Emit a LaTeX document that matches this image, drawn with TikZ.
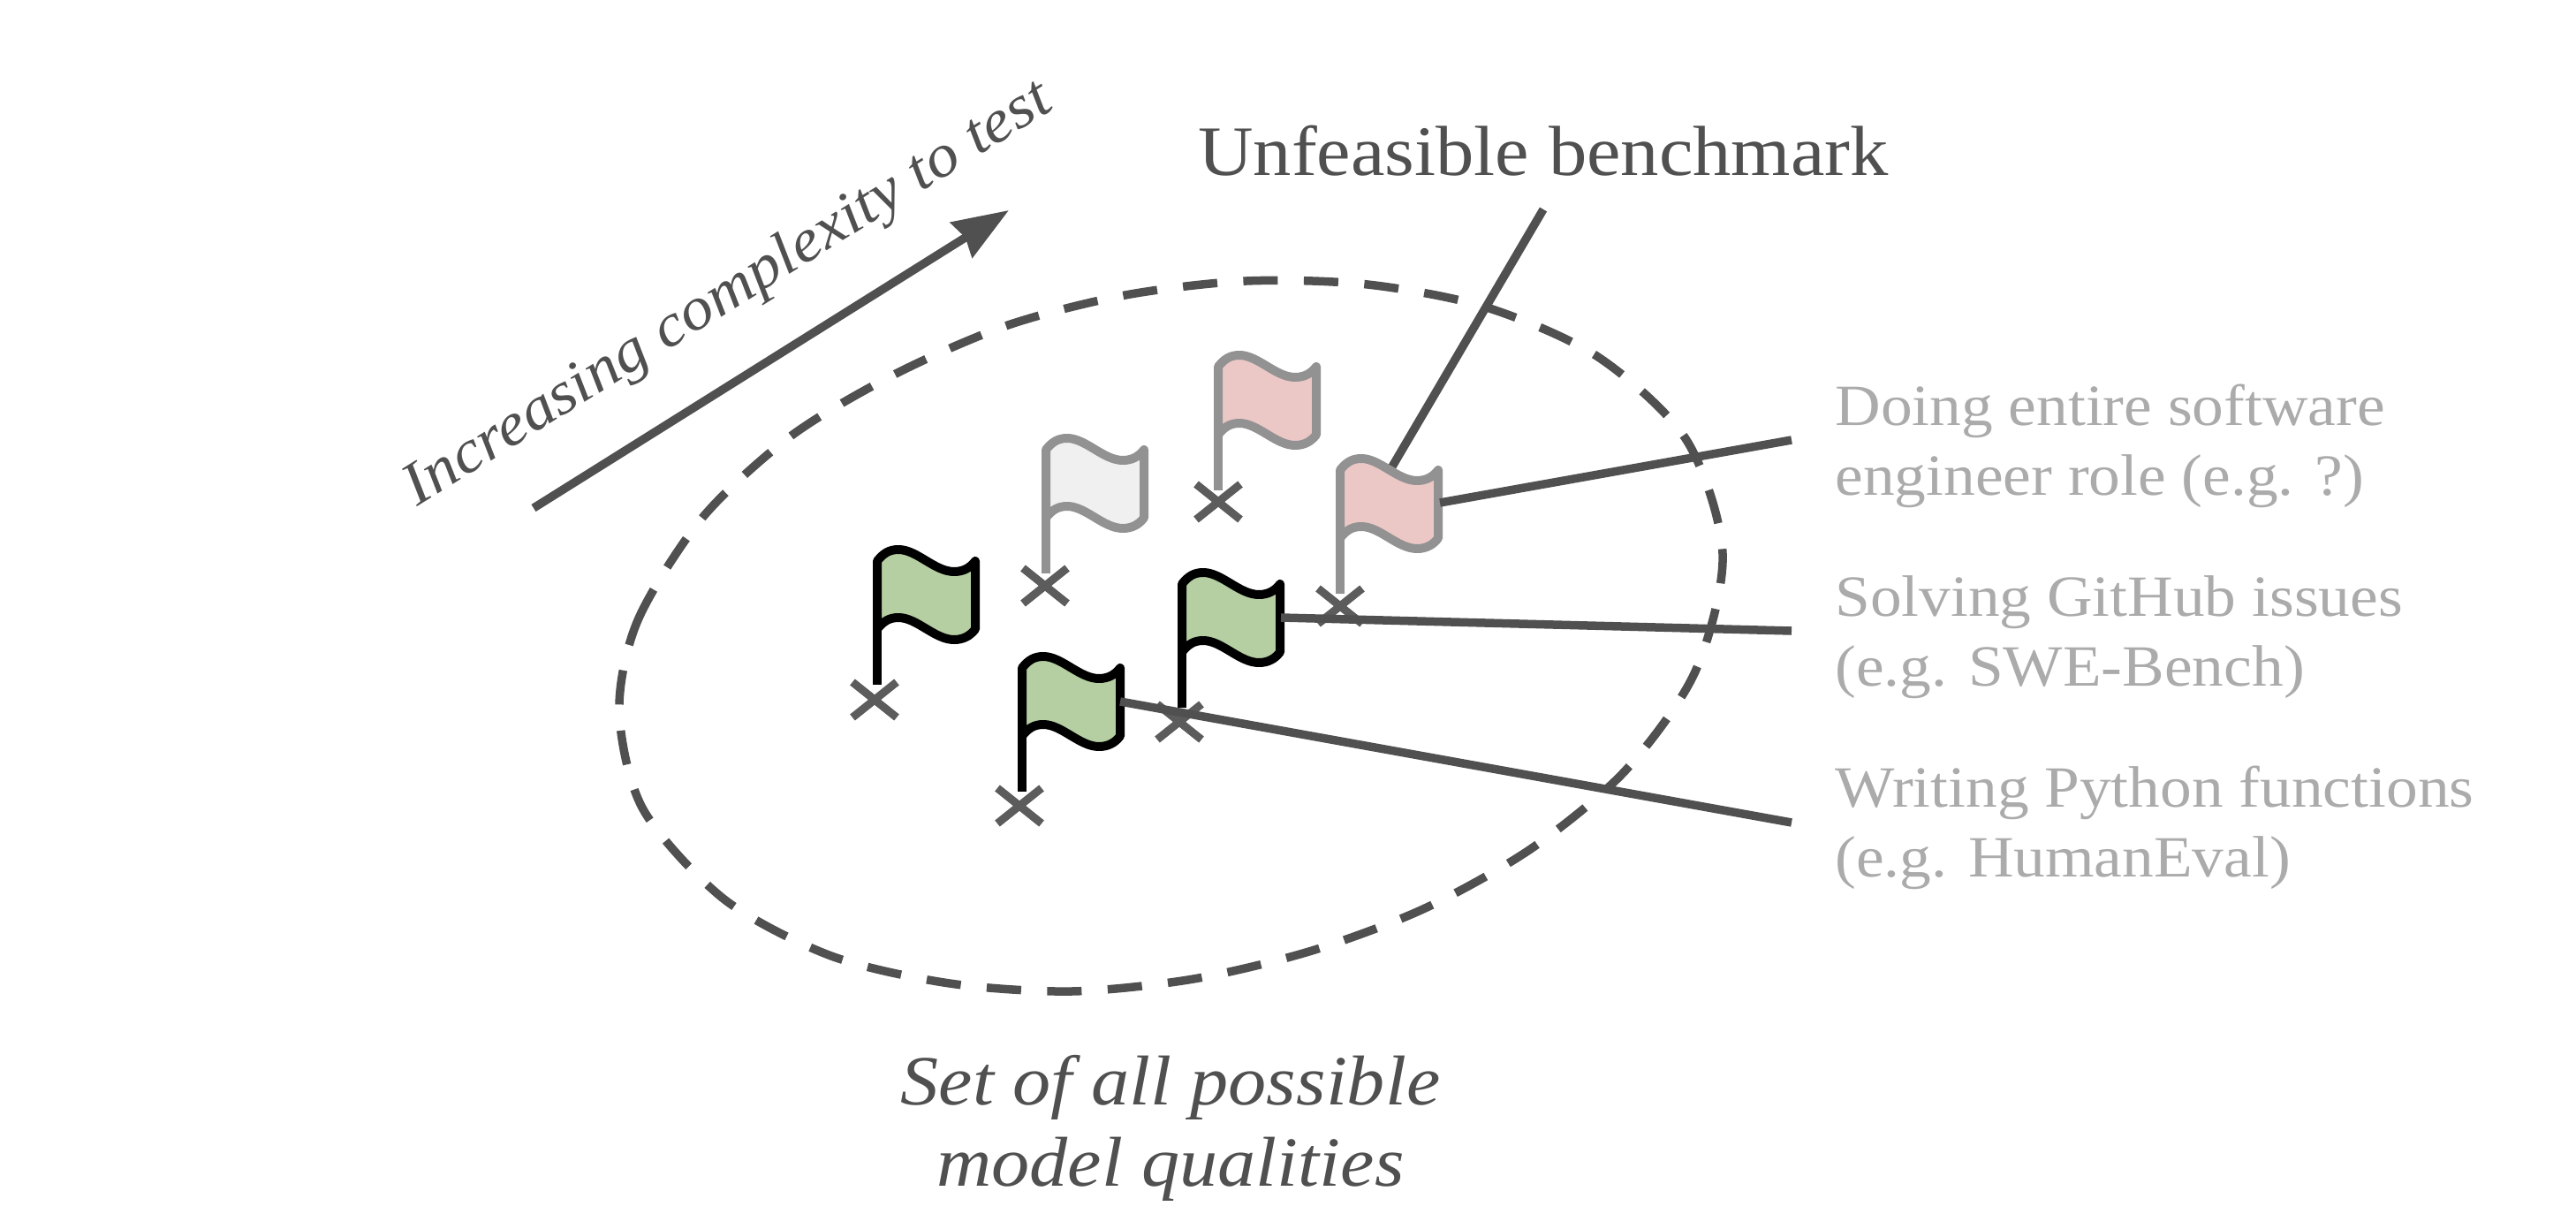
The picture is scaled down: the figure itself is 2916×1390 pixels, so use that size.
\documentclass[tikz,border=0pt]{standalone}
\usepackage{fontspec}
\setmainfont[FakeStretch=1.08]{Liberation Serif}
\usepackage{xcolor}
\usetikzlibrary{arrows.meta,shapes.misc,positioning}
\definecolor{darkline}{HTML}{505050}
\definecolor{crossgray}{HTML}{5C5C5C}
\definecolor{fadetext}{HTML}{ABABAB}
\definecolor{fadeedge}{HTML}{929292}
\definecolor{flaggreen}{HTML}{B5CFA2}
\definecolor{flagpink}{HTML}{EBC8C6}
\definecolor{flagwhite}{HTML}{F0F0F0}
\tikzset{
  connector/.style={darkline,line width=0.095cm},
  crossmark/.style={cross out,draw=crossgray,line width=0.09cm,minimum width=0.50cm,minimum height=0.40cm,inner sep=0pt,outer sep=0pt},
  flagline/.style={line width=0.10cm,line join=round},
  benchlabel/.style={fadetext,anchor=west,align=left,font=\fontsize{18.8}{22.5}\selectfont},
  headlabel/.style={darkline,font=\fontsize{22.8}{27}\selectfont},
  setlabel/.style={darkline,align=center,font=\fontsize{22.7}{26}\selectfont\itshape}
}
\begin{document}
\begin{tikzpicture}[x=0.01cm,y=0.01cm]
\useasboundingbox (0,0) rectangle (2916,1390);
% Outer set of qualities
\draw[darkline,line width=0.095cm,dash pattern=on 0.39cm off 0.295cm] plot[smooth cycle] coordinates {(701,585) (722,688) (795,804) (896,897) (1014,967) (1141,1022) (1274,1056) (1411,1072) (1548,1068) (1683,1042) (1809,986) (1909,892) (1950,763) (1919,630) (1840,518) (1734,430) (1613,362) (1485,314) (1351,282) (1213,268) (1075,277) (941,308) (820,372) (728,474)};
% Complexity arrow
\coordinate (arrowstart) at (604,815);
\coordinate (arrowtip) at (1142,1152);
\draw[connector,-{Stealth[length=0.63cm,width=0.46cm,inset=0.05cm]}] (arrowstart) -- (arrowtip);
\node[darkline,rotate=32,font=\fontsize{19.5}{24}\selectfont\itshape] (complexity) at (825,1056) {Increasing complexity to test};
% Crosses
\foreach \i/\x/\y in {1/990/598,2/1183/727,3/1379/822,4/1517/704,5/1335/573,6/1154/478} {
    \node[crossmark] (cross\i) at (\x,\y) {};
}
% Free ends of the connectors
\coordinate (flagtop) at (1576,862);
\coordinate (flagrole) at (1630,821);
\coordinate (flagissues) at (1450,691);
\coordinate (flagfunctions) at (1268,596);
\coordinate (endtop) at (1747,1153);
\coordinate (endrole) at (2028,892);
\coordinate (endissues) at (2028,676);
\coordinate (endfunctions) at (2028,459);
\draw[connector] (flagtop) -- (endtop);
% Flags
\foreach \x/\y/\fillcol/\edgecol in {993/615/flaggreen/black,1184/741/flagwhite/fadeedge,1379/835/flagpink/fadeedge,1517/718/flagpink/fadeedge,1338/589/flaggreen/black,1157/494/flaggreen/black} {
\begin{scope}[shift={(\x,\y)}]
\draw[flagline,draw=\edgecol,fill=\fillcol] (0,140) .. controls (7,149) and (14,153) .. (24,153) .. controls (45,153) and (65,128) .. (87,128) .. controls (97,128) and (105,132) .. (111,140) -- (111,63) .. controls (105,55) and (97,51) .. (87,51) .. controls (65,51) and (45,76) .. (24,76) .. controls (14,76) and (7,72) .. (0,63) -- cycle;
\draw[flagline,draw=\edgecol] (0,140) -- (0,0);
\end{scope}
}
\draw[connector] (flagrole) -- (endrole);
\draw[connector] (flagissues) -- (endissues);
\draw[connector] (flagfunctions) -- (endfunctions);
% Labels
\node[headlabel] (unfeasible) at (1747,1219) {Unfeasible benchmark};
\node[benchlabel] (role) at (2065,885) {Doing entire software\\engineer role (e.g. ?)};
\node[benchlabel] (issues) at (2065,669) {Solving GitHub issues\\(e.g. SWE-Bench)};
\node[benchlabel] (functions) at (2065,453) {Writing Python functions\\(e.g. HumanEval)};
\node[setlabel] (qualities) at (1325,113) {Set of all possible\\model qualities};
\end{tikzpicture}
\end{document}
